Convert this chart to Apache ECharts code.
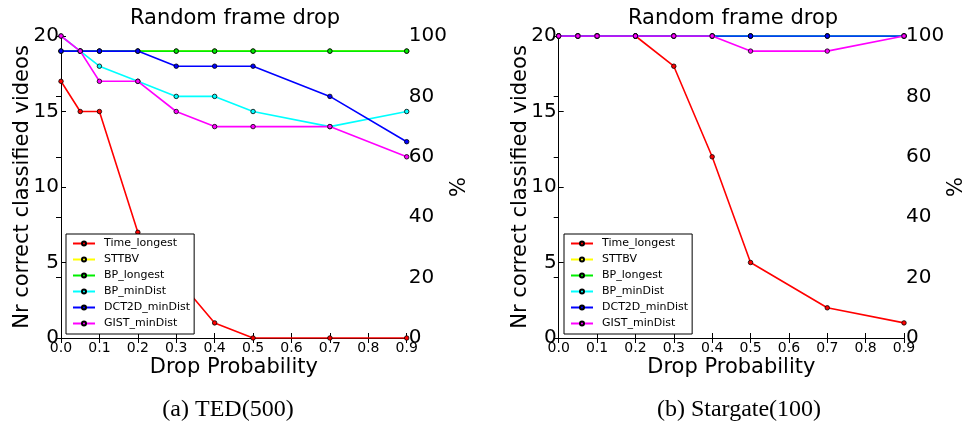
<!DOCTYPE html>
<html>
<head>
<meta charset="utf-8">
<script src="https://cdn.jsdelivr.net/npm/echarts@6/dist/echarts.min.js"></script>
<style>
  html, body { margin: 0; padding: 0; background: #fff; }
  #chart { width: 968px; height: 431px; }
</style>
</head>
<body>
<div id="chart"></div>
<script>
// Drop probabilities on the x axis
const dropProb = [0, 0.05, 0.1, 0.2, 0.3, 0.4, 0.5, 0.7, 0.9];
const xTicks = [0.0, 0.1, 0.2, 0.3, 0.4, 0.5, 0.6, 0.7, 0.8, 0.9];
const leftTicks = [0, 5, 10, 15, 20];
const rightTicks = [0, 20, 40, 60, 80, 100];

const methodNames = ['Time_longest', 'STTBV', 'BP_longest', 'BP_minDist', 'DCT2D_minDist', 'GIST_minDist'];
const methodColors = ['#ff0000', '#ffff00', '#00ee00', '#00ffff', '#0000ff', '#ff00ff'];

// (a) TED(500): correctly classified videos per method
const tedTimeLongest = [17, 15, 15, 7, 4, 1, 0, 0, 0];
const tedSttbv       = [19, 19, 19, 19, 19, 19, 19, 19, 19];
const tedBpLongest   = [19, 19, 19, 19, 19, 19, 19, 19, 19];
const tedBpMinDist   = [20, 19, 18, 17, 16, 16, 15, 14, 15];
const tedDct2d       = [19, 19, 19, 19, 18, 18, 18, 16, 13];
const tedGist        = [20, 19, 17, 17, 15, 14, 14, 14, 12];

// (b) Stargate(100)
const sgTimeLongest = [20, 20, 20, 20, 18, 12, 5, 2, 1];
const sgSttbv       = [20, 20, 20, 20, 20, 20, 20, 20, 20];
const sgBpLongest   = [20, 20, 20, 20, 20, 20, 20, 20, 20];
const sgBpMinDist   = [20, 20, 20, 20, 20, 20, 20, 20, 20];
const sgDct2d       = [20, 20, 20, 20, 20, 20, 20, 20, 20];
const sgGist        = [20, 20, 20, 20, 20, 20, 19, 19, 20];

const titleText = 'Random frame drop';
const yName = 'Nr correct classified videos';
const yRightName = '%';
const xName = 'Drop Probability';
const captions = ['(a) TED(500)', '(b) Stargate(100)'];

const panels = [
  { data: [tedTimeLongest, tedSttbv, tedBpLongest, tedBpMinDist, tedDct2d, tedGist],
    grid: { left: 61, right: 561.3, top: 36, bottom: 93 },
    legend: { left: 66, top: 234 }, titleX: 235, captionX: 228 },
  { data: [sgTimeLongest, sgSttbv, sgBpLongest, sgBpMinDist, sgDct2d, sgGist],
    grid: { left: 558.7, right: 64, top: 36, bottom: 93 },
    legend: { left: 564, top: 234 }, titleX: 733, captionX: 739 }
];

const FONT = 'DejaVu Sans';
const AXIS_COLOR = '#000';

const option = {
  animation: false,
  backgroundColor: '#fff',
  textStyle: { fontFamily: FONT, color: '#000' },
  grid: [], xAxis: [], yAxis: [], series: [], legend: [], graphic: []
};

panels.forEach((p, pi) => {
  option.grid.push(Object.assign({ containLabel: false }, p.grid));

  const tickInside = { show: true, inside: true, length: 5, lineStyle: { color: AXIS_COLOR, width: 1 } };
  const lineStyle = { show: true, lineStyle: { color: AXIS_COLOR, width: 1 } };

  // bottom x axis with labels
  option.xAxis.push({
    type: 'value', gridIndex: pi, position: 'bottom',
    min: xTicks[0], max: xTicks[xTicks.length - 1], interval: 0.1,
    name: xName, nameLocation: 'middle', nameGap: 19, nameMoveOverlap: false,
    nameTextStyle: { fontSize: 21, fontFamily: FONT, color: '#000' },
    axisLine: lineStyle, axisTick: tickInside, splitLine: { show: false },
    axisLabel: { fontSize: 14, fontFamily: FONT, color: '#000', margin: 3,
                 showMinLabel: true, showMaxLabel: true,
                 formatter: v => v.toFixed(1) }
  });
  // top x axis: frame and ticks only
  option.xAxis.push({
    type: 'value', gridIndex: pi, position: 'top',
    min: xTicks[0], max: xTicks[xTicks.length - 1], interval: 0.1,
    axisLine: lineStyle, axisTick: tickInside, splitLine: { show: false },
    axisLabel: { show: false }
  });
  // left y axis: count
  option.yAxis.push({
    type: 'value', gridIndex: pi, position: 'left',
    min: leftTicks[0], max: leftTicks[leftTicks.length - 1], interval: 5,
    name: yName, nameLocation: 'middle', nameGap: 28, nameRotate: 90, nameMoveOverlap: false,
    nameTextStyle: { fontSize: 21, fontFamily: FONT, color: '#000' },
    axisLine: lineStyle, axisTick: tickInside, splitLine: { show: false },
    axisLabel: { fontSize: 20, fontFamily: FONT, color: '#000', margin: 2 }
  });
  // right y axis: percentage
  option.yAxis.push({
    type: 'value', gridIndex: pi, position: 'right',
    min: rightTicks[0], max: rightTicks[rightTicks.length - 1], interval: 20,
    name: yRightName, nameLocation: 'middle', nameGap: 42, nameRotate: 90, nameMoveOverlap: false,
    nameTextStyle: { fontSize: 21, fontFamily: FONT, color: '#000' },
    axisLine: lineStyle, axisTick: tickInside, splitLine: { show: false },
    axisLabel: { fontSize: 20, fontFamily: FONT, color: '#000', margin: 2 }
  });

  methodNames.forEach((name, si) => {
    option.series.push({
      type: 'line', name: name,
      xAxisIndex: pi * 2, yAxisIndex: pi * 2,
      data: dropProb.map((x, i) => [x, p.data[si][i]]),
      symbol: 'circle', symbolSize: 4.5, showSymbol: true,
      color: methodColors[si],
      lineStyle: { width: 1.6, color: methodColors[si] },
      itemStyle: { color: methodColors[si], borderColor: '#000', borderWidth: 0.8 },
      z: 2 + si
    });
  });

  option.legend.push({
    orient: 'vertical', left: p.legend.left, top: p.legend.top,
    data: methodNames,
    itemWidth: 22, itemHeight: 5, itemGap: 3,
    padding: [3, 4, 4, 6],
    backgroundColor: '#fff', borderColor: '#000', borderWidth: 1, borderRadius: 0,
    textStyle: { fontSize: 11, fontFamily: FONT, color: '#000', lineHeight: 13, padding: [0, 0, 0, 4] },
    selectedMode: false
  });

  option.graphic.push({
    type: 'text', x: p.titleX, y: 19, silent: true,
    style: { text: titleText, fontSize: 21, fontFamily: FONT, fill: '#000',
             textAlign: 'center', textVerticalAlign: 'middle' }
  });
  option.graphic.push({
    type: 'text', x: p.captionX, y: 410, silent: true,
    style: { text: captions[pi], fontSize: 24, fontFamily: 'Liberation Serif', fill: '#000',
             textAlign: 'center', textVerticalAlign: 'middle' }
  });
});

const chart = echarts.init(document.getElementById('chart'), null, { renderer: 'canvas' });
chart.setOption(option);
</script>
</body>
</html>
